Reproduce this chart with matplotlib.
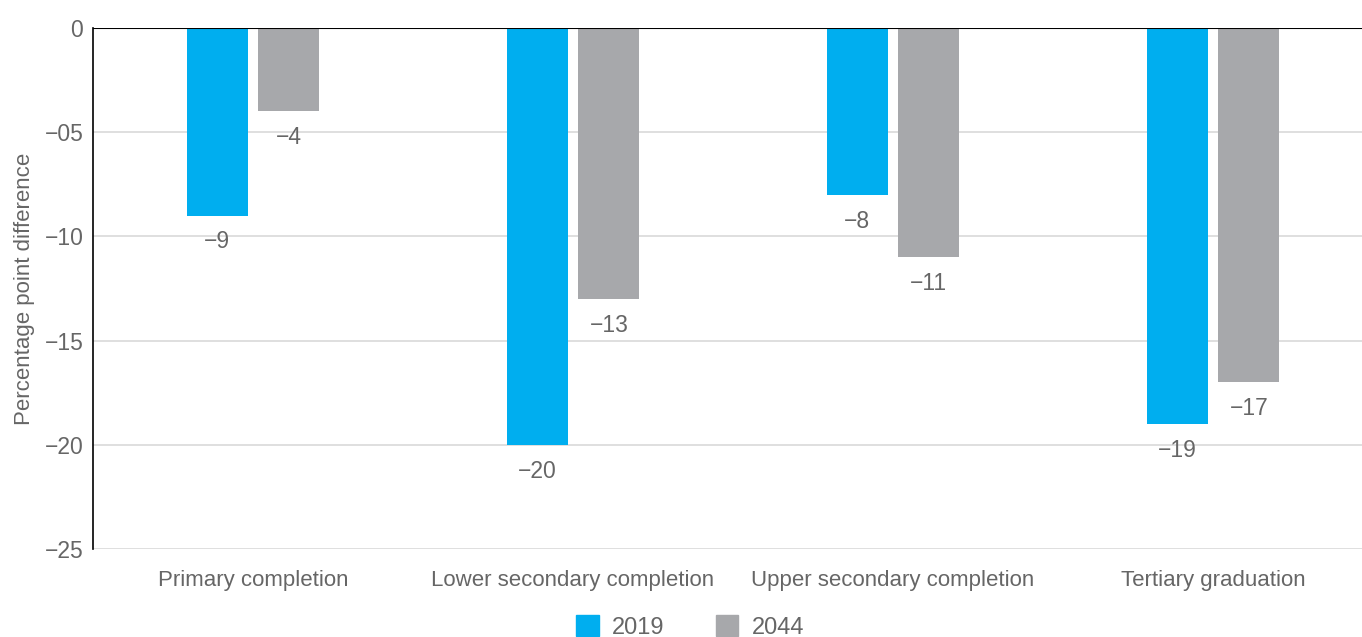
import numpy as np
import matplotlib
matplotlib.use("Agg")
import matplotlib.pyplot as plt
from matplotlib.patches import Patch

C_2019 = "#00AEEF"
C_2044 = "#A7A8AB"
TXT = "#666666"

categories = ["Primary completion", "Lower secondary completion",
              "Upper secondary completion", "Tertiary graduation"]
vals_2019 = [-9, -20, -8, -19]
vals_2044 = [-4, -13, -11, -17]
series = ["2019", "2044"]
yticks = [0, -5, -10, -15, -20, -25]
ytick_labels = ["0", "\u221205", "\u221210", "\u221215", "\u221220", "\u221225"]

plt.rcParams["font.family"] = ["Liberation Sans", "DejaVu Sans"]

fig = plt.figure(figsize=(13.62, 6.37), dpi=100)
ax = fig.add_axes([93 / 1362, 1 - 549 / 637, 1280 / 1362, 521 / 637])

x = np.arange(len(categories))
w = 0.19
off = 0.112
b1 = ax.bar(x - off, vals_2019, w, color=C_2019, zorder=2)
b2 = ax.bar(x + off, vals_2044, w, color=C_2044, zorder=2)

for bars, vals in [(b1, vals_2019), (b2, vals_2044)]:
    for rect, v in zip(bars, vals):
        ax.annotate(f"\u2212{abs(v)}", (rect.get_x() + rect.get_width() / 2, v),
                    xytext=(0, -19), textcoords="offset points",
                    ha="center", va="center", fontsize=16.5, color=TXT)

ax.set_xlim(-0.5, 3.5)
ax.set_ylim(-25, 0)
ax.set_yticks(yticks)
ax.set_yticklabels(ytick_labels)
ax.set_xticks(x)
ax.set_xticklabels(categories)
ax.tick_params(axis="x", length=0, pad=15, labelsize=16, labelcolor=TXT)
ax.tick_params(axis="y", length=0, pad=7, labelsize=16.5, labelcolor=TXT)
ax.grid(axis="y", color="#d9d9d9", lw=1.2, zorder=0)
ax.set_axisbelow(True)
for s in ["top", "right", "bottom"]:
    ax.spines[s].set_visible(False)
ax.spines["left"].set_color("black")
ax.spines["left"].set_linewidth(1.2)
ax.axhline(0, color="black", lw=1.5, zorder=3)
ax.set_ylabel("Percentage point difference", fontsize=16, color=TXT, labelpad=7)

handles = [Patch(color=C_2019), Patch(color=C_2044)]
fig.legend(handles, series, loc="center", bbox_to_anchor=(690 / 1362, 1 - 627 / 637),
           ncol=2, frameon=False, fontsize=17, labelcolor=TXT,
           handlelength=0.95, handleheight=0.95, handletextpad=0.55,
           columnspacing=2.2)

fig.savefig("out.png", dpi=100, facecolor="white")
